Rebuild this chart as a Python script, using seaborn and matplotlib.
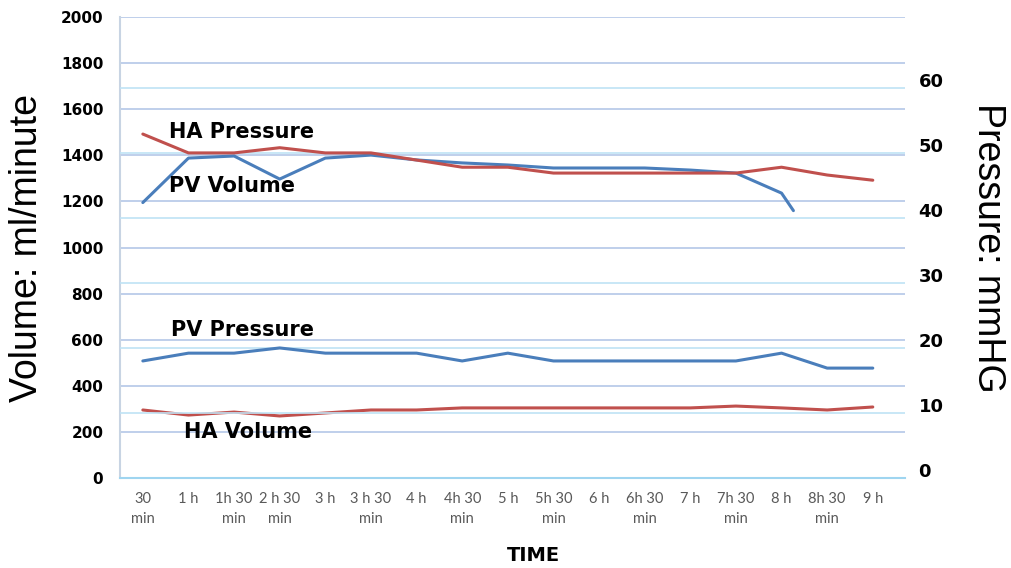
import numpy as np
import pandas as pd
import matplotlib
matplotlib.use("Agg")
import matplotlib.pyplot as plt
import matplotlib.transforms as mtransforms
import seaborn as sns

# time points (equally spaced categories on the x axis)
time_labels = ["30\nmin", "1 h", "1h 30\nmin", "2 h 30\nmin", "3 h", "3 h 30\nmin", "4 h",
               "4h 30\nmin", "5 h", "5h 30\nmin", "6 h", "6h 30\nmin", "7 h", "7h 30\nmin",
               "8 h", "8h 30\nmin", "9 h"]

# volumes (ml/minute, left axis)
pv_volume = [1195, 1388, 1397, 1297, 1388, 1401, 1380, 1367, 1358, 1345, 1345, 1345,
             1336, 1323, 1236]
pv_volume_end = (14.26, 1160)  # recording stops shortly after 8 h
ha_volume = [295, 273, 286, 269, 282, 295, 295, 304, 304, 304, 304, 304, 304, 312,
             304, 295, 308]

# pressures (mmHg, right axis)
ha_pressure = [52.9, 50.0, 50.0, 50.8, 50.0, 50.0, 48.9, 47.8, 47.8, 46.9, 46.9, 46.9,
               46.9, 46.9, 47.8, 46.6, 45.8]
pv_pressure = [18.0, 19.2, 19.2, 20.0, 19.2, 19.2, 19.2, 18.0, 19.2, 18.0, 18.0, 18.0,
               18.0, 18.0, 19.2, 16.9, 16.9]

blue = "#4a7ebb"
red = "#c0504d"

sns.set_style("white")
plt.rcParams["font.family"] = ["Liberation Sans", "DejaVu Sans"]
plt.rcParams["text.color"] = "black"
plt.rcParams["axes.labelcolor"] = "black"
plt.rcParams["ytick.color"] = "black"
bold_font = ["DejaVu Sans"]

fig = plt.figure(figsize=(10.12, 5.68), dpi=100)
ax = fig.add_axes([0.1186, 0.1585, 0.7754, 0.8115])
ax2 = ax.twinx()

pos = np.arange(len(time_labels))
vol = pd.DataFrame({
    "t": list(pos[:len(pv_volume)]) + [pv_volume_end[0]] + list(pos),
    "value": pv_volume + [pv_volume_end[1]] + ha_volume,
    "series": ["PV Volume"] * (len(pv_volume) + 1) + ["HA Volume"] * len(ha_volume),
})
pres = pd.DataFrame({
    "t": list(pos) * 2,
    "value": ha_pressure + pv_pressure,
    "series": ["HA Pressure"] * len(ha_pressure) + ["PV Pressure"] * len(pv_pressure),
})

# gridlines of both original charts
for v in range(0, 2001, 200):
    ax.axhline(v, color="#b4c7e7", lw=1.2, zorder=0)
for v in range(10, 61, 10):
    ax2.axhline(v, color="#bfe3f5", lw=1.2, zorder=0)

sns.lineplot(data=vol, x="t", y="value", hue="series", palette={"PV Volume": blue, "HA Volume": red},
             lw=2.2, legend=False, ax=ax, sort=False)
sns.lineplot(data=pres, x="t", y="value", hue="series", palette={"HA Pressure": red, "PV Pressure": blue},
             lw=2.2, legend=False, ax=ax2, sort=False)

ax.set_xlim(-0.5, 16.7)
ax.set_ylim(0, 2000)
ax2.set_ylim(0, 70.9)
ax.set_yticks(range(0, 2001, 200))
ax2.set_yticks(range(0, 61, 10))
ax.set_xticks(pos)
ax.set_xticklabels(time_labels, fontsize=10.5, color="#595959", family=["Lato", "DejaVu Sans"],
                   linespacing=1.6)
ax.tick_params(axis="x", length=0, pad=10)
ax.tick_params(axis="y", length=0, pad=12)
ax2.tick_params(axis="y", length=0, pad=10)
for lab in ax.get_yticklabels():
    lab.set_fontweight("bold")
    lab.set_family(bold_font)
    lab.set_fontsize(11)
# right-hand labels sit a little above their gridlines in the original
lift = mtransforms.ScaledTranslation(0, 8 / 100, fig.dpi_scale_trans)
for lab in ax2.get_yticklabels():
    lab.set_fontweight("bold")
    lab.set_family(bold_font)
    lab.set_fontsize(13)
    lab.set_transform(lab.get_transform() + lift)

for s in ["top", "right"]:
    ax.spines[s].set_visible(False)
    ax2.spines[s].set_visible(False)
ax2.spines["left"].set_visible(False)
ax2.spines["bottom"].set_visible(False)
ax.spines["left"].set_color("#c8d4e3")
ax.spines["left"].set_linewidth(1.5)
ax.spines["bottom"].set_color("#9fd5f0")
ax.spines["bottom"].set_linewidth(1.5)

ax.set_xlabel("TIME", fontsize=14, fontweight="bold", family=bold_font, labelpad=20)
ax.xaxis.set_label_coords(0.527, -0.148)
ax.set_ylabel("Volume: ml/minute", fontsize=27, labelpad=11)
ax2.set_ylabel("Pressure: mmHG", fontsize=27, rotation=-90, labelpad=45)

# series names written on the chart
label_kw = dict(fontsize=15, fontweight="bold", family=bold_font, va="center")
ax.text(0.57, 1500, "HA Pressure", **label_kw)
ax.text(0.57, 1265, "PV Volume", **label_kw)
ax.text(0.62, 640, "PV Pressure", **label_kw)
ax.text(0.9, 200, "HA Volume", **label_kw)

fig.savefig("out.png", dpi=100)
